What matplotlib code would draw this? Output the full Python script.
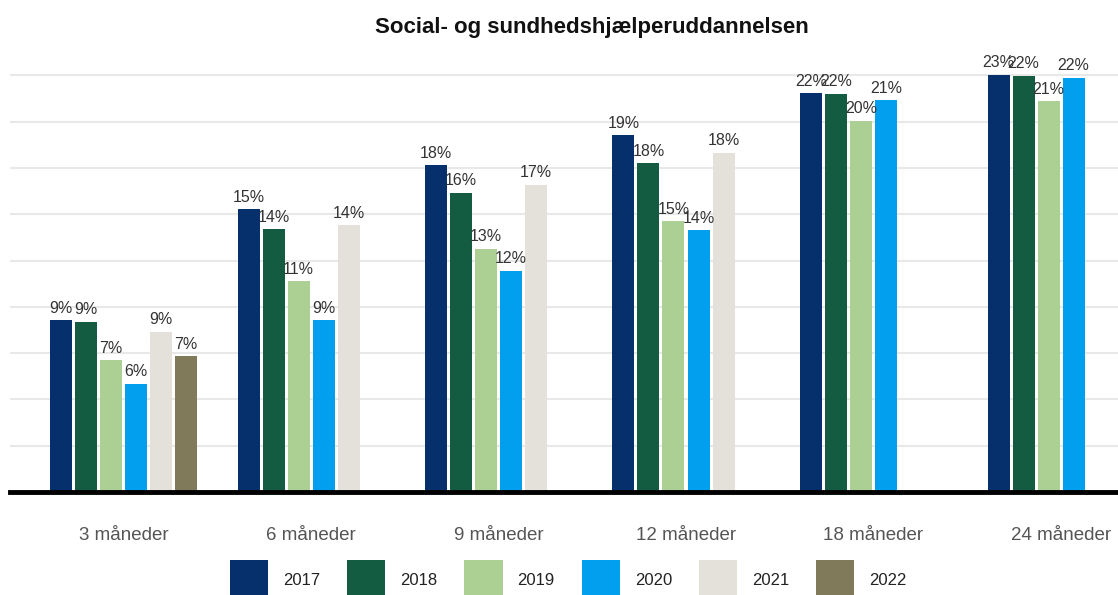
import matplotlib
matplotlib.use("Agg")
import matplotlib.pyplot as plt
import numpy as np

plt.rcParams['font.family'] = ['Liberation Sans', 'DejaVu Sans']

categories = ["3 måneder", "6 måneder", "9 måneder", "12 måneder", "18 måneder", "24 måneder"]
years = ["2017", "2018", "2019", "2020", "2021", "2022"]
values = {
    "2017": [9.27, 15.27, 17.64, 19.25, 21.53, 22.53],
    "2018": [9.18, 14.19, 16.15, 17.74, 21.50, 22.46],
    "2019": [7.12, 11.38, 13.14, 14.61, 20.05, 21.10],
    "2020": [5.83, 9.27, 11.96, 14.12, 21.15, 22.37],
    "2021": [8.64, 14.39, 16.58, 18.33, None, None],
    "2022": [7.33, None, None, None, None, None],
}
colors = {
    "2017": "#06306b",
    "2018": "#135c41",
    "2019": "#acd093",
    "2020": "#029fef",
    "2021": "#e3e1d9",
    "2022": "#80795a",
}

W, H = 1118, 595
fig = plt.figure(figsize=(W / 100, H / 100), dpi=100)
ax_left = 10 / W
ax_bottom = (H - 492) / H
ax_top_px = 55
ax = fig.add_axes([ax_left, ax_bottom, 1.0 - ax_left, (492 - ax_top_px) / H])

px_per_unit = 187.5
x0 = (10 - 123.5) / px_per_unit
x1 = (1118 - 123.5) / px_per_unit
ax.set_xlim(x0, x1)
px_per_pct = 416.7 / 22.5
ax.set_ylim(0, (492 - ax_top_px) / px_per_pct)

x = np.arange(len(categories))
pitch = 25 / px_per_unit
bw = 22 / px_per_unit
for j, yr in enumerate(years):
    vals = values[yr]
    xs = [x[i] + (j - 2.5) * pitch for i in range(len(vals)) if vals[i] is not None]
    vs = [v for v in vals if v is not None]
    ax.bar(xs, vs, width=bw, color=colors[yr], label=yr, zorder=3, linewidth=0)
    for xi, v in zip(xs, vs):
        ax.text(xi, v + 0.25, f"{round(v):d}%", ha="center", va="bottom",
                fontsize=11.5, color="#333333", zorder=4, clip_on=False)

ax.set_yticks(np.arange(2.5, 23, 2.5))
ax.yaxis.grid(True, color="#e8e8e8", linewidth=1.5, zorder=0)
ax.set_yticklabels([])
ax.tick_params(axis="y", length=0)
ax.axhline(0, color="black", linewidth=3.5, zorder=5, clip_on=False)
for s in ax.spines.values():
    s.set_visible(False)

ax.set_xticks(x)
ax.set_xticklabels(categories, fontsize=13.5, color="#555555")
ax.tick_params(axis="x", length=0, pad=25)

fig.text(591.5 / W, 1 - 28 / H, "Social- og sundhedshjælperuddannelsen",
         ha="center", va="center", fontsize=16, fontweight="bold", color="#111111")

handles, labels = ax.get_legend_handles_labels()
leg = fig.legend(handles, labels, loc="upper left", bbox_to_anchor=(230 / W, 1 - 560 / H),
                 ncol=6, frameon=False, fontsize=12, borderpad=0, borderaxespad=0,
                 handlelength=2.3, handleheight=3.3, handletextpad=0.9, columnspacing=1.6)
for t in leg.get_texts():
    t.set_color("#222222")

fig.savefig("out.png", dpi=100)
